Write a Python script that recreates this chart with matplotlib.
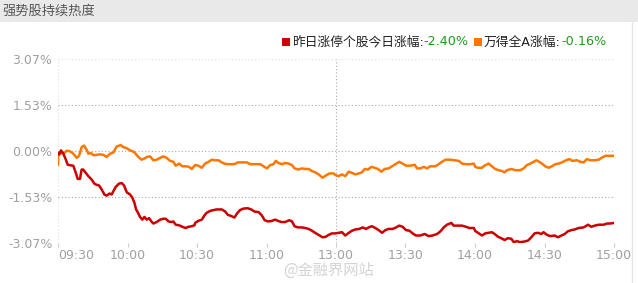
import matplotlib
matplotlib.use('Agg')
import matplotlib.pyplot as plt
from matplotlib.patches import Rectangle
from matplotlib.lines import Line2D

plt.rcParams['font.family'] = ['DejaVu Sans', 'Noto Sans CJK SC']

# trading minutes after 09:30 (lunch break removed)
tick_minutes = [0, 30, 60, 90, 120, 150, 180, 210, 240]
tick_labels = ['09:30', '10:00', '10:30', '11:00', '13:00', '13:30', '14:00', '14:30', '15:00']
y_ticks = [3.07, 1.53, 0.00, -1.53, -3.07]
y_labels = ['3.07%', '1.53%', '0.00%', '-1.53%', '-3.07%']

# 昨日涨停个股今日涨幅 (%)
limit_up_min = [0.0, 0.4, 1.3, 2.3, 3.3, 4.2, 5.6, 6.6, 7.6, 8.5, 9.5, 10.2, 10.9, 12.0, 13.1, 14.5,
                15.7, 16.7, 17.7, 18.9, 20.0, 21.0, 22.2, 23.2, 23.9, 24.9, 26.3, 27.5, 28.5, 29.7,
                31.1, 32.1, 33.0, 33.7, 34.4, 35.4, 36.4, 37.3, 38.3, 39.3, 40.5, 41.2, 42.6, 44.1,
                45.5, 46.5, 47.7, 49.1, 49.8, 50.8, 52.3, 53.7, 55.1, 56.3, 57.7, 58.9,
                59.2, 60.6, 62.1, 63.2, 64.2, 65.7, 67.1, 68.6, 70.7, 72.2, 73.3, 74.8, 76.2, 77.2,
                78.6, 80.1, 81.9, 83.4, 84.8, 86.6, 88.0, 89.2, 90.6, 92.0, 93.8, 94.9, 96.4, 98.1,
                99.8, 101.0, 102.1, 103.6, 105.3, 106.7, 108.2, 109.6, 111.0, 112.5, 114.2, 115.6,
                116.8, 118.2,
                119.7, 121.1, 122.6, 124.0, 125.5, 126.9, 128.3, 130.1, 131.5, 133.0, 134.1, 135.5,
                137.0, 138.4, 139.9, 141.3, 142.7, 144.5, 145.9, 147.3, 148.8, 150.2, 151.7, 153.1,
                154.5, 156.4, 158.3, 160.0, 161.7, 163.6, 165.1, 166.5, 167.9, 169.8, 170.8, 172.7,
                174.4, 176.1, 177.6, 179.5,
                180.1, 181.3, 183.0, 184.4, 185.9, 187.3, 188.5, 189.9, 191.3, 192.8, 194.2, 195.7,
                196.7, 198.1, 199.5, 201.4, 202.9, 204.3, 205.7, 207.2, 208.6, 209.6, 211.1, 212.5,
                214.4, 215.8, 217.3, 218.7, 220.1, 221.6, 223.0, 224.7, 226.9, 228.8, 230.2, 231.7,
                233.4, 235.5, 237.0, 238.4, 240.0]
limit_up_pct = [-0.07, -0.12, 0.02, -0.09, -0.27, -0.46, -0.48, -0.49, -0.71, -0.93, -0.93, -0.62,
                -0.62, -0.73, -0.84, -0.95, -1.09, -1.13, -1.15, -1.29, -1.45, -1.49, -1.42, -1.45,
                -1.34, -1.20, -1.09, -1.07, -1.15, -1.38, -1.45, -1.56, -1.73, -1.95, -2.04, -2.20,
                -2.29, -2.20, -2.29, -2.24, -2.37, -2.42, -2.37, -2.29, -2.26, -2.26, -2.35, -2.37,
                -2.35, -2.46, -2.48, -2.53, -2.57, -2.53, -2.51, -2.48,
                -2.40, -2.33, -2.29, -2.15, -2.06, -2.00, -1.97, -1.95, -1.95, -2.02, -2.13, -2.17,
                -2.22, -2.09, -1.97, -1.92, -1.91, -1.95, -2.02, -2.04, -2.15, -2.31, -2.35, -2.34,
                -2.29, -2.33, -2.37, -2.37, -2.31, -2.35, -2.51, -2.55, -2.55, -2.57, -2.60, -2.66,
                -2.73, -2.80, -2.88, -2.86, -2.80, -2.75,
                -2.75, -2.73, -2.71, -2.82, -2.73, -2.66, -2.62, -2.60, -2.55, -2.60, -2.55, -2.51,
                -2.57, -2.64, -2.73, -2.64, -2.60, -2.60, -2.55, -2.49, -2.53, -2.64, -2.66, -2.75,
                -2.82, -2.82, -2.77, -2.84, -2.82, -2.77, -2.68, -2.55, -2.46, -2.40, -2.49, -2.49,
                -2.49, -2.53, -2.57, -2.57,
                -2.67, -2.73, -2.82, -2.75, -2.73, -2.71, -2.77, -2.86, -2.91, -2.97, -2.91, -2.93,
                -3.04, -3.01, -3.04, -3.02, -2.99, -2.88, -2.75, -2.73, -2.77, -2.71, -2.80, -2.84,
                -2.82, -2.88, -2.82, -2.77, -2.68, -2.64, -2.62, -2.57, -2.55, -2.46, -2.53, -2.49,
                -2.46, -2.46, -2.42, -2.42, -2.40]

# 万得全A涨幅 (%)
wind_a_min = [0.0, 0.1, 1.6, 3.0, 3.7, 5.2, 6.6, 8.1, 9.1, 10.2, 11.2, 12.4, 13.1, 14.3, 15.3, 16.7,
              18.1, 19.6, 21.0, 22.5, 23.9, 25.3, 27.1, 28.2, 29.7, 31.1, 32.5, 33.5, 34.7, 36.1,
              37.3, 38.3, 39.7, 41.2, 42.6, 44.1, 45.5, 46.9, 48.4, 49.8, 50.8, 52.3, 53.7, 55.1,
              56.6, 57.7, 59.2,
              60.6, 62.1, 63.5, 65.0, 66.4, 67.8, 69.3, 70.7, 72.2, 73.6, 75.0, 76.5, 77.6, 79.4,
              81.5, 83.0, 85.1, 87.3, 88.7, 90.2, 91.6, 93.0, 94.0, 95.2, 96.6, 98.1, 99.5, 101.0,
              102.1, 103.8, 105.3, 106.7, 108.2, 109.6, 111.0, 112.5, 114.2, 115.6, 117.1, 119.0,
              119.7, 121.1, 122.6, 124.0, 125.5, 126.9, 128.3, 129.8, 131.2, 132.4, 133.8, 135.3,
              136.7, 138.1, 139.6, 141.0, 142.7, 144.2, 145.6, 147.3, 148.8, 150.2, 152.1, 154.0,
              155.0, 156.4, 157.9, 159.3, 160.7, 162.9, 164.3, 165.8, 167.2, 169.4, 171.3, 173.0,
              174.4, 176.1, 178.0, 179.5,
              180.1, 181.3, 183.0, 184.1, 185.9, 187.3, 188.7, 190.2, 191.6, 192.8, 193.8, 195.7,
              197.4, 199.5, 201.0, 202.4, 203.9, 205.3, 206.5, 207.7, 208.9, 210.3, 211.8, 213.2,
              214.7, 216.1, 217.5, 219.3, 220.7, 222.1, 224.0, 225.5, 226.9, 228.3, 229.8, 231.6,
              233.4, 234.8, 236.3, 238.4, 240.0]
wind_a_pct = [-0.46, -0.12, -0.07, -0.05, 0.01, -0.01, -0.09, -0.23, -0.16, 0.13, 0.18, 0.04, -0.09,
              -0.07, -0.14, -0.13, -0.11, -0.13, -0.20, -0.09, -0.05, 0.15, 0.20, 0.13, 0.09, 0.02,
              -0.02, -0.09, -0.20, -0.29, -0.25, -0.20, -0.18, -0.31, -0.29, -0.23, -0.18, -0.23,
              -0.33, -0.36, -0.49, -0.42, -0.51, -0.51, -0.53, -0.60, -0.47,
              -0.49, -0.56, -0.42, -0.36, -0.29, -0.31, -0.31, -0.38, -0.43, -0.44, -0.44, -0.43,
              -0.38, -0.38, -0.38, -0.44, -0.44, -0.44, -0.51, -0.58, -0.47, -0.44, -0.33, -0.40,
              -0.44, -0.40, -0.42, -0.47, -0.58, -0.62, -0.58, -0.60, -0.60, -0.67, -0.71, -0.78,
              -0.89, -0.82, -0.75, -0.75,
              -0.80, -0.84, -0.78, -0.84, -0.69, -0.73, -0.78, -0.75, -0.71, -0.60, -0.62, -0.53,
              -0.56, -0.60, -0.69, -0.60, -0.58, -0.51, -0.44, -0.36, -0.42, -0.49, -0.49, -0.46,
              -0.58, -0.58, -0.53, -0.58, -0.51, -0.51, -0.44, -0.36, -0.29, -0.29, -0.31, -0.33,
              -0.42, -0.44, -0.44, -0.42,
              -0.53, -0.56, -0.56, -0.49, -0.42, -0.51, -0.60, -0.64, -0.67, -0.71, -0.64, -0.60,
              -0.64, -0.64, -0.58, -0.47, -0.42, -0.36, -0.31, -0.36, -0.42, -0.51, -0.56, -0.51,
              -0.44, -0.42, -0.38, -0.31, -0.27, -0.33, -0.31, -0.36, -0.38, -0.27, -0.31, -0.31,
              -0.29, -0.22, -0.16, -0.16, -0.16]

W, H = 638, 283
fig = plt.figure(figsize=(W / 100, H / 100), dpi=100)
fig.patch.set_facecolor('white')

# header bar
fig.add_artist(Rectangle((0, 1 - 22 / H), 1, 22 / H, transform=fig.transFigure,
                         facecolor='#e9e9e9', edgecolor='none'))
fig.text(2 / W, 1 - 11 / H, '强势股持续热度', fontsize=9.5, color='#555555',
         va='center', ha='left', family=['Noto Sans CJK SC', 'DejaVu Sans'])
fig.add_artist(Line2D([632 / W, 632 / W], [0, 1 - 22 / H], transform=fig.transFigure,
                      color='#e6e6e6', lw=1))

ax = fig.add_axes([58 / W, 1 - 243 / H, 556 / W, 184 / H])
ax.plot(wind_a_min, wind_a_pct, color='#ff7700', lw=1.8, zorder=3)
ax.plot(limit_up_min, limit_up_pct, color='#cc0000', lw=1.8, zorder=4)

ax.set_xlim(0, 240)
ax.set_ylim(-3.07, 3.07)
for s in ax.spines.values():
    s.set_visible(False)

dots = (0, (1, 2))
for yv in y_ticks:
    edge = abs(yv) > 3
    ax.axhline(yv, color='#dddddd' if edge else '#aaaaaa', lw=0.8, ls=dots, zorder=1)
ax.axvline(0, color='#dddddd', lw=0.8, ls=dots, zorder=1)
ax.axvline(240, color='#dddddd', lw=0.8, ls=dots, zorder=1)
ax.axvline(120, color='#aaaaaa', lw=0.8, ls=dots, zorder=1)

ax.set_yticks(y_ticks)
ax.set_yticklabels(y_labels)
ax.set_xticks(tick_minutes)
ax.set_xticklabels(tick_labels)
ax.tick_params(axis='y', length=0, pad=4, labelsize=9, labelcolor='#a0a0a0')
ax.tick_params(axis='x', length=3, color='#cccccc', pad=1, labelsize=9, labelcolor='#a0a0a0')
ax.get_xticklabels()[0].set_ha('left')

# legend pieces
pieces = [('sq', '#cc0000'), ('昨日涨停个股今日涨幅:', '#222222'), ('-2.40%', '#1f9a1f'),
          ('sp', None), ('sq', '#ff7700'), ('万得全A涨幅:', '#222222'), ('-0.16%', '#1f9a1f')]
fig.canvas.draw()
renderer = fig.canvas.get_renderer()
x = 282
ly = 42
for kind, col in pieces:
    if kind == 'sq':
        fig.add_artist(Rectangle((x / W, 1 - (ly + 4) / H), 8 / W, 8 / H,
                                 transform=fig.transFigure, facecolor=col, edgecolor='none'))
        x += 10
    elif kind == 'sp':
        x += 5
    else:
        t = fig.text(x / W, 1 - ly / H, kind, fontsize=9.2, color=col, va='center', ha='left')
        x += t.get_window_extent(renderer).width

# watermark
fig.text(283 / W, 1 - 270 / H, '@金融界网站', fontsize=11, color='#d4d4d4',
         va='center', ha='left', family=['Noto Sans CJK SC', 'DejaVu Sans'])

fig.savefig('out.png', dpi=100)
